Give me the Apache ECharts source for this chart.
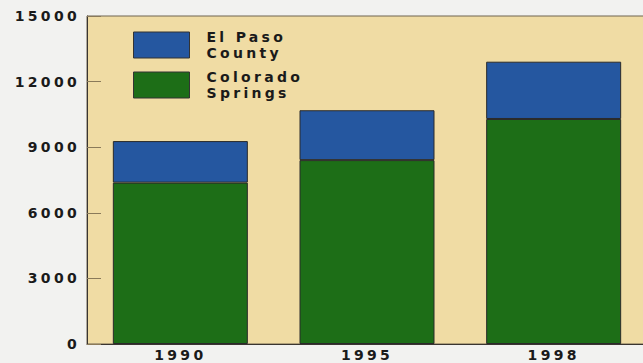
<!DOCTYPE html>
<html>
<head>
<meta charset="utf-8">
<script src="https://cdn.jsdelivr.net/npm/echarts@6/dist/echarts.min.js"></script>
<style>
  html, body { margin: 0; padding: 0; background: #f2f2f0; overflow: hidden; }
  body { width: 643px; height: 363px; overflow: hidden; }
  #chart { width: 647px; height: 363px; }
  #chart text { letter-spacing: 3.3px; }
</style>
</head>
<body>
<div id="chart"></div>
<script>
const categories = ['1990', '1995', '1998'];
const coloradoSprings = [7380, 8410, 10290];
const elPasoCountyRest = [1900, 2280, 2620];
const yTicks = [0, 3000, 6000, 9000, 12000, 15000];

const FONT = 'DejaVu Sans';
const chart = echarts.init(document.getElementById('chart'), null, { renderer: 'svg' });
chart.setOption({
  backgroundColor: '#f2f2f0',
  animation: false,
  textStyle: { fontFamily: FONT },
  grid: {
    left: 87, right: 0, top: 16, bottom: 19,
    show: true, backgroundColor: '#f0dca4', borderColor: '#6e6450', borderWidth: 1
  },
  legend: {
    orient: 'vertical',
    left: 133, top: 29,
    padding: 0,
    itemWidth: 56, itemHeight: 26, itemGap: 8,
    icon: 'rect',
    data: ['El Paso County', 'Colorado Springs'],
    formatter: n => n.replace(/ (\S+)$/, '\n$1'),
    textStyle: { fontFamily: FONT, fontWeight: 'bold', fontSize: 14, color: '#1a1a1a', lineHeight: 16, padding: [0, 0, 0, 12] },
    itemStyle: { borderColor: '#333', borderWidth: 1 }
  },
  xAxis: {
    type: 'category',
    data: categories,
    axisLine: { lineStyle: { color: '#3a3530', width: 1 } },
    axisTick: { inside: true, length: 9, lineStyle: { color: '#3a3530' } },
    axisLabel: { margin: 4, fontFamily: FONT, fontWeight: 'bold', fontSize: 14, color: '#1a1a1a' }
  },
  yAxis: {
    type: 'value',
    min: yTicks[0], max: yTicks[yTicks.length - 1], interval: 3000,
    splitLine: { show: false },
    axisLine: { show: true, lineStyle: { color: '#3a3530', width: 1 } },
    axisTick: { show: true, inside: true, length: 14, lineStyle: { color: '#8a7a5a' } },
    axisLabel: { margin: 7, formatter: v => String(v), fontFamily: FONT, fontWeight: 'bold', fontSize: 14, color: '#1a1a1a' }
  },
  series: [
    {
      name: 'Colorado Springs', type: 'bar', stack: 'total', barWidth: 135,
      data: coloradoSprings,
      itemStyle: { color: '#1d6e17', borderColor: '#2a2a2a', borderWidth: 1 }
    },
    {
      name: 'El Paso County', type: 'bar', stack: 'total', barWidth: 135,
      data: elPasoCountyRest,
      itemStyle: { color: '#2557a0', borderColor: '#2a2a2a', borderWidth: 1 }
    }
  ]
});
</script>
</body>
</html>
